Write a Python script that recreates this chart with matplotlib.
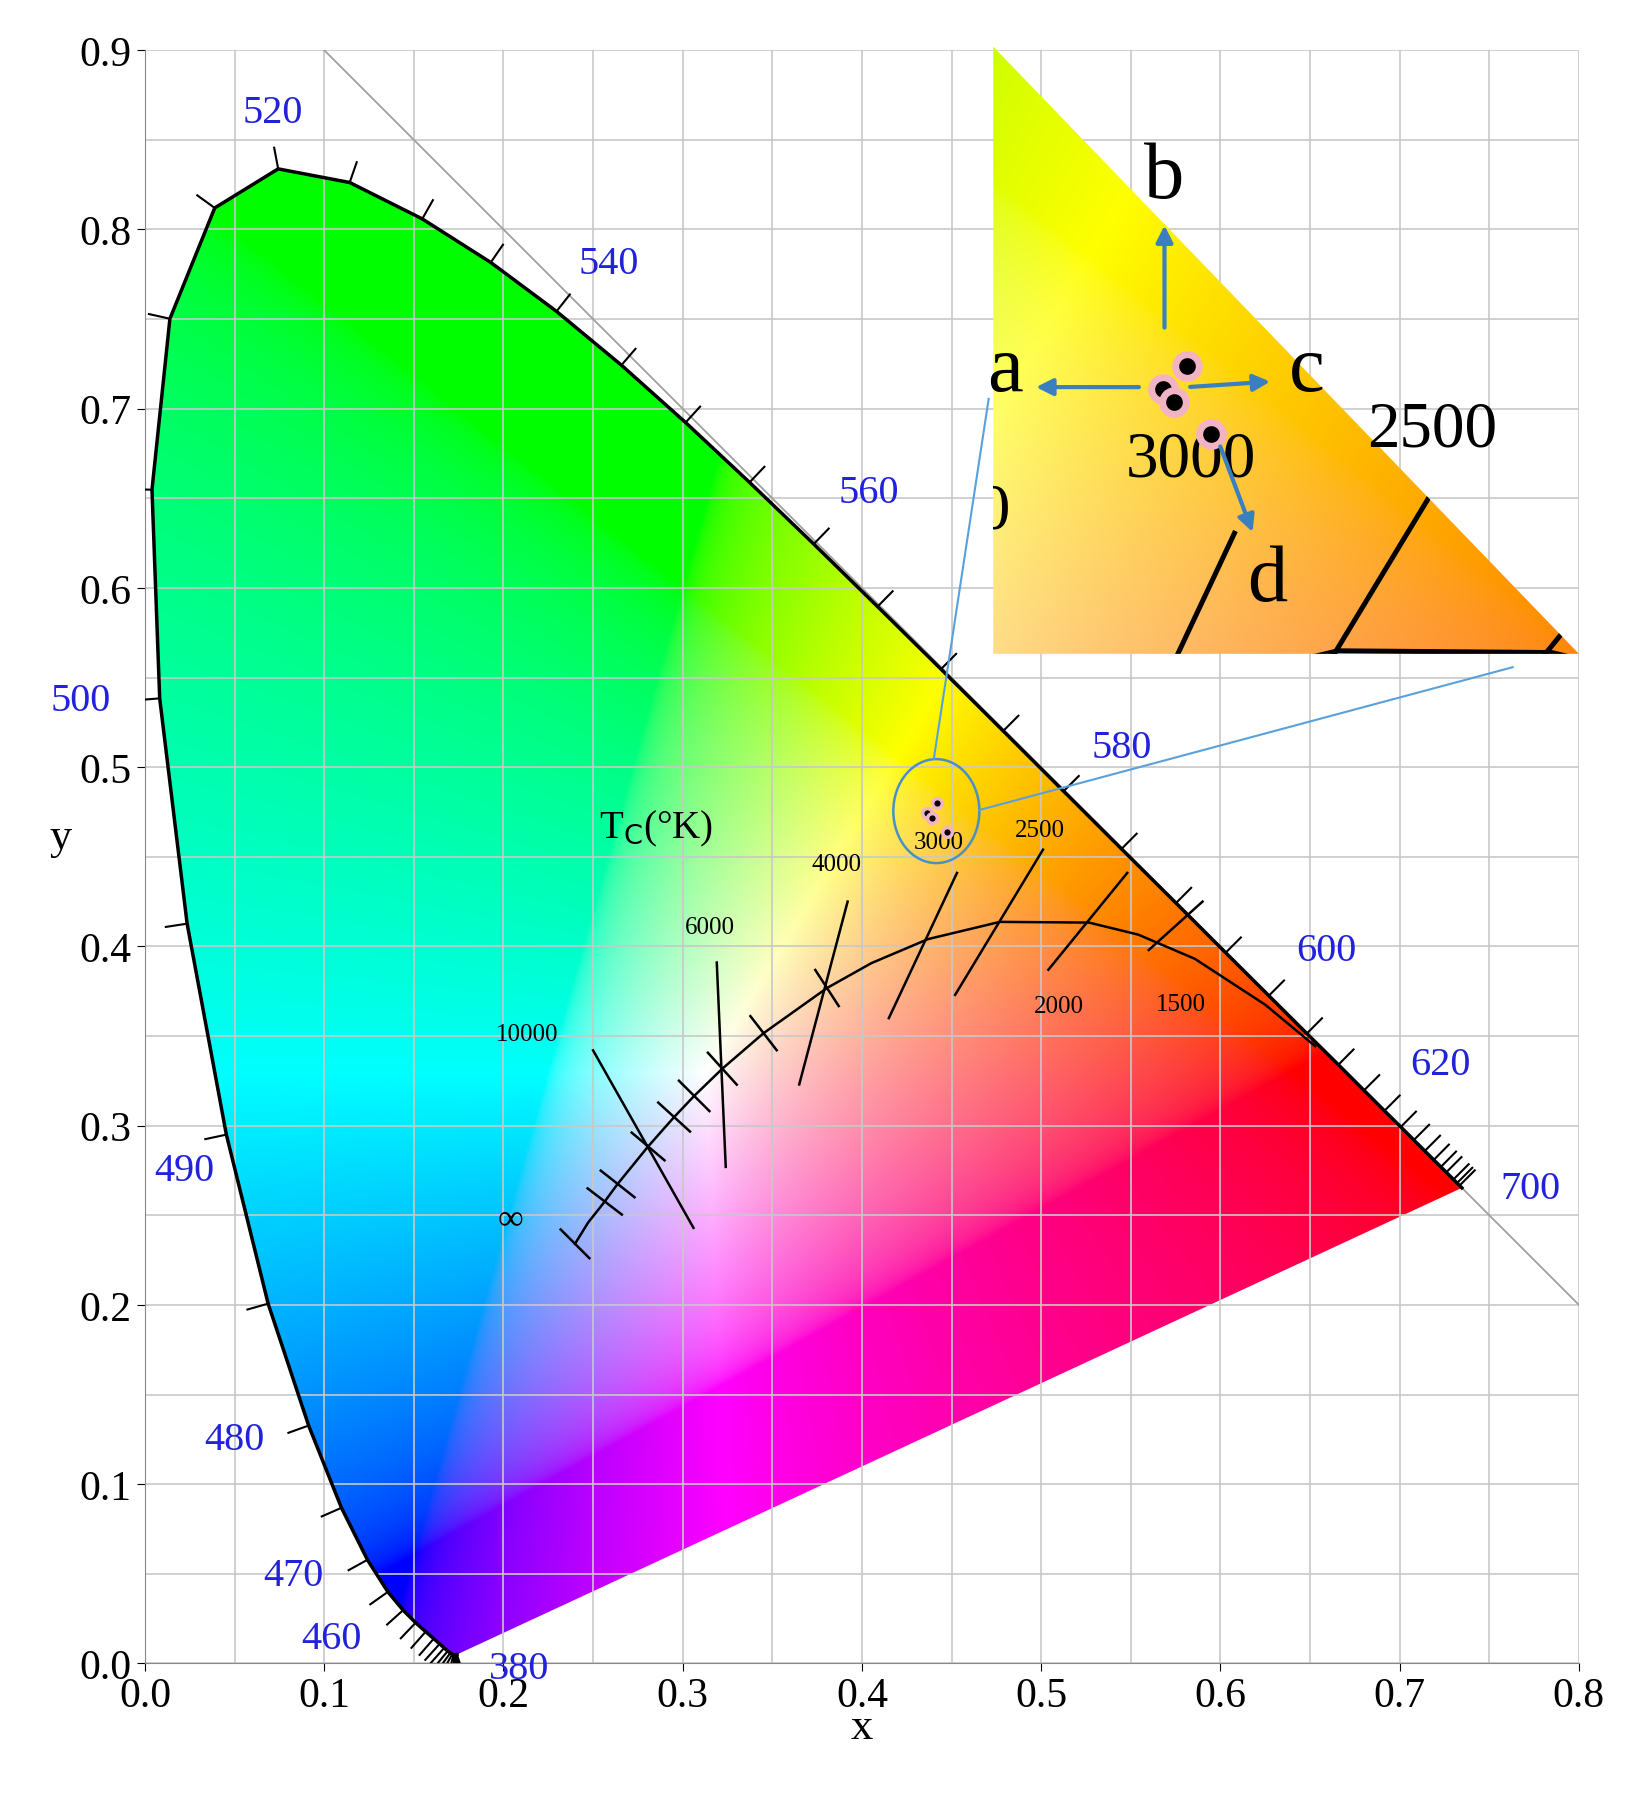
import matplotlib
matplotlib.use("Agg")
import matplotlib.pyplot as plt
import numpy as np
from matplotlib.patches import Polygon, Ellipse
from matplotlib.lines import Line2D

plt.rcParams["font.family"] = ["Liberation Serif", "DejaVu Serif"]

# CIE 1931 spectral locus (nm, x, y)
wl = [380, 385, 390, 395, 400, 405, 410, 415, 420, 425, 430, 435, 440, 445, 450,
      455, 460, 465, 470, 475, 480, 485, 490, 495, 500, 505, 510, 515, 520, 525,
      530, 535, 540, 545, 550, 555, 560, 565, 570, 575, 580, 585, 590, 595, 600,
      605, 610, 615, 620, 625, 630, 635, 640, 645, 650, 660, 670, 680, 700]
loc_x = [0.1741, 0.1740, 0.1738, 0.1736, 0.1733, 0.1730, 0.1726, 0.1721, 0.1714, 0.1703,
         0.1689, 0.1669, 0.1644, 0.1611, 0.1566, 0.1510, 0.1440, 0.1355, 0.1241, 0.1096,
         0.0913, 0.0687, 0.0454, 0.0235, 0.0082, 0.0039, 0.0139, 0.0389, 0.0743, 0.1142,
         0.1547, 0.1929, 0.2296, 0.2658, 0.3016, 0.3373, 0.3731, 0.4087, 0.4441, 0.4788,
         0.5125, 0.5448, 0.5752, 0.6029, 0.6270, 0.6482, 0.6658, 0.6801, 0.6915, 0.7006,
         0.7079, 0.7140, 0.7190, 0.7230, 0.7260, 0.7300, 0.7320, 0.7334, 0.7347]
loc_y = [0.0050, 0.0050, 0.0049, 0.0049, 0.0048, 0.0048, 0.0048, 0.0048, 0.0051, 0.0058,
         0.0069, 0.0086, 0.0109, 0.0138, 0.0177, 0.0227, 0.0297, 0.0399, 0.0578, 0.0868,
         0.1327, 0.2007, 0.2950, 0.4127, 0.5384, 0.6548, 0.7502, 0.8120, 0.8338, 0.8262,
         0.8059, 0.7816, 0.7543, 0.7243, 0.6923, 0.6589, 0.6245, 0.5896, 0.5547, 0.5202,
         0.4866, 0.4544, 0.4242, 0.3965, 0.3725, 0.3514, 0.3340, 0.3197, 0.3083, 0.2993,
         0.2920, 0.2859, 0.2809, 0.2770, 0.2740, 0.2700, 0.2680, 0.2666, 0.2653]

# wavelength labels and their positions
wl_labels = ["380", "460", "470", "480", "490", "500", "520", "540", "560", "580", "600", "620", "700"]
wl_lx = [0.209, 0.104, 0.083, 0.050, 0.022, -0.036, 0.071, 0.259, 0.404, 0.545, 0.659, 0.723, 0.773]
wl_ly = [-0.003, 0.014, 0.049, 0.125, 0.275, 0.537, 0.865, 0.781, 0.653, 0.511, 0.398, 0.334, 0.265]

# Planckian locus (K, x, y)
pl_T = [1000, 1200, 1500, 1750, 2000, 2500, 3000, 3500, 4000, 5000, 6000, 7000,
        8000, 10000, 15000, 20000, 40000]
pl_x = [0.6528, 0.6251, 0.5857, 0.5541, 0.5267, 0.4770, 0.4369, 0.4053, 0.3805,
        0.3451, 0.3221, 0.3064, 0.2952, 0.2807, 0.2637, 0.2565, 0.2472]
pl_y = [0.3444, 0.3674, 0.3931, 0.4066, 0.4133, 0.4137, 0.4041, 0.3907, 0.3768,
        0.3516, 0.3318, 0.3166, 0.3048, 0.2884, 0.2675, 0.2577, 0.2459]
inf_x, inf_y = 0.2399, 0.2341

# isotherm segments (x0, y0, x1, y1)
iso_x0 = [0.250, 0.319, 0.392, 0.453, 0.501, 0.548, 0.590]
iso_y0 = [0.342, 0.391, 0.425, 0.441, 0.454, 0.441, 0.425]
iso_x1 = [0.306, 0.324, 0.365, 0.415, 0.452, 0.504, 0.560]
iso_y1 = [0.243, 0.277, 0.323, 0.360, 0.373, 0.387, 0.398]

temp_labels = ["10000", "6000", "4000", "3000", "2500", "2000", "1500"]
temp_lx = [0.213, 0.315, 0.386, 0.443, 0.499, 0.510, 0.578]
temp_ly = [0.351, 0.411, 0.446, 0.458, 0.465, 0.367, 0.368]

# measured samples a, b, c, d
pt_x = [0.4365, 0.4420, 0.4390, 0.4475]
pt_y = [0.4745, 0.4799, 0.4715, 0.4641]


def chroma_image(x0, x1, y0, y1, n=500):
    xs = np.linspace(x0, x1, n)
    ys = np.linspace(y0, y1, n)
    X, Y = np.meshgrid(xs, ys)
    Yc = np.maximum(Y, 1e-4)
    XX = X / Yc
    ZZ = (1 - X - Y) / Yc
    r = 3.2406 * XX - 1.5372 - 0.4986 * ZZ
    g = -0.9689 * XX + 1.8758 + 0.0415 * ZZ
    b = 0.0557 * XX - 0.2040 + 1.0570 * ZZ
    rgb = np.clip(np.stack([r, g, b], axis=-1), 0, None)
    rgb = rgb / np.maximum(rgb.max(axis=-1, keepdims=True), 1e-9)
    rgb = np.where(rgb <= 0.0031308, 12.92 * rgb, 1.055 * rgb ** (1 / 2.4) - 0.055)
    return np.clip(rgb, 0, 1)


def draw_content(ax, lw_scale=1.0, fs_scale=1.0, ext=(0, 0.8, 0, 0.9), clip_text=False):
    img = chroma_image(*ext)
    im = ax.imshow(img, extent=ext, origin="lower", zorder=1, interpolation="bilinear")
    poly = Polygon(np.column_stack([loc_x, loc_y]), closed=True, transform=ax.transData)
    im.set_clip_path(poly)
    ax.plot(loc_x, loc_y, color="black", lw=2.5 * lw_scale, zorder=3)
    ax.plot(pl_x + [inf_x], pl_y + [inf_y], color="black", lw=1.8 * lw_scale, zorder=3)
    for a, b_, c, d in zip(iso_x0, iso_y0, iso_x1, iso_y1):
        ax.plot([a, c], [b_, d], color="black", lw=1.8 * lw_scale, zorder=3)
    for t, x, y in zip(temp_labels, temp_lx, temp_ly):
        ax.text(x, y, t, fontsize=18 * fs_scale, ha="center", va="center", zorder=4,
                clip_on=clip_text)


fig = plt.figure(figsize=(16.44, 17.99), dpi=100)
W, H = 1440, 1575
ax = fig.add_axes([127 / W, 1 - 1462 / H, (1383 - 127) / W, (1462 - 40) / H])
ax.set_xlim(0, 0.8)
ax.set_ylim(0, 0.9)
ax.set_xticks(np.arange(0, 0.81, 0.1))
ax.set_yticks(np.arange(0, 0.91, 0.1))
ax.set_xticks(np.arange(0, 0.81, 0.05), minor=True)
ax.set_yticks(np.arange(0, 0.91, 0.05), minor=True)
ax.grid(True, which="both", color="#c8c8c8", lw=1.2, zorder=0)
ax.tick_params(labelsize=30, direction="out", length=6)
ax.tick_params(which="minor", length=0)
ax.set_xticklabels([f"{v:.1f}" for v in np.arange(0, 0.81, 0.1)])
ax.set_yticklabels([f"{v:.1f}" for v in np.arange(0, 0.91, 0.1)])
for s in ["top", "right"]:
    ax.spines[s].set_visible(False)
ax.spines["left"].set_color("#888888")
ax.spines["bottom"].set_color("#888888")
ax.set_xlabel("x", fontsize=32, labelpad=-6)
ax.set_ylabel("y", fontsize=32, rotation=0, labelpad=14)

ax.plot([0.1, 0.8], [0.9, 0.2], color="#a0a0a0", lw=1.3, zorder=2)
draw_content(ax)

# ticks along the spectral locus
px, py = np.array(loc_x), np.array(loc_y)
for i in range(1, len(px) - 1):
    tx, ty = px[i + 1] - px[i - 1], py[i + 1] - py[i - 1]
    nrm = np.hypot(tx, ty)
    if nrm == 0:
        continue
    nx, ny = ty / nrm, -tx / nrm
    if (px[i] - 0.33) * nx + (py[i] - 0.33) * ny < 0:
        nx, ny = -nx, -ny
    ax.plot([px[i], px[i] + 0.012 * nx], [py[i], py[i] + 0.012 * ny], color="black", lw=1.5, zorder=3)

# short ticks along the Planckian locus
for i in range(8, len(pl_x) - 1):
    tx, ty = pl_x[i + 1] - pl_x[i - 1], pl_y[i + 1] - pl_y[i - 1]
    nrm = np.hypot(tx, ty)
    nx, ny = -ty / nrm, tx / nrm
    ax.plot([pl_x[i] - 0.012 * nx, pl_x[i] + 0.012 * nx],
            [pl_y[i] - 0.012 * ny, pl_y[i] + 0.012 * ny], color="black", lw=1.8, zorder=3)
ax.plot([inf_x - 0.008, inf_x + 0.008], [inf_y + 0.008, inf_y - 0.008], color="black", lw=1.8, zorder=3)
ax.text(0.204, 0.248, "∞", fontsize=26, ha="center", va="center")
ax.text(0.285, 0.466, "T$_{\\rm C}$(°K)", fontsize=28, ha="center", va="center")

for t, x, y in zip(wl_labels, wl_lx, wl_ly):
    ax.text(x, y, t, color="#2222dd", fontsize=29, ha="center", va="center", clip_on=False)

ax.add_patch(Ellipse((0.4415, 0.4755), 0.048, 0.058, fill=False, ec="#4a8fc8", lw=1.8, zorder=5))
ax.plot(pt_x, pt_y, "o", ms=7, mfc="black", mec="#f2b3c4", mew=2.5, zorder=6)

# connecting lines to the inset (figure coordinates)
fig.add_artist(Line2D([818 / W, 866 / W], [1 - 665 / H, 1 - 350 / H], color="#5aa0dd", lw=1.5))
fig.add_artist(Line2D([858 / W, 1325 / W], [1 - 710 / H, 1 - 585 / H], color="#5aa0dd", lw=1.5))

# inset
iax = fig.add_axes([870 / W, 1 - 575 / H, (1383 - 870) / W, (575 - 40) / H])
ext = (0.397, 0.533, 0.413, 0.554)
iax.set_xlim(ext[0], ext[1])
iax.set_ylim(ext[2], ext[3])
iax.axis("off")
draw_content(iax, lw_scale=2.0, fs_scale=2.6, ext=ext, clip_text=True)
tri = Polygon([(0, 0), (1, 0), (0, 1)], closed=True, transform=iax.transAxes)
for art in iax.images + iax.lines + iax.texts:
    art.set_clip_path(tri)
iax.plot(pt_x, pt_y, "o", ms=17, mfc="black", mec="#f2b3c4", mew=5, zorder=6)


def fr(px_, py_):
    return ((px_ - 870) / 513, 1 - (py_ - 40) / 535)


for lab, tpos, s, e in [("a", (880, 325), (1000, 340), (905, 340)),
                        ("b", (1020, 155), (1020, 290), (1020, 195)),
                        ("c", (1145, 325), (1040, 340), (1115, 335)),
                        ("d", (1110, 510), (1068, 390), (1098, 470))]:
    iax.annotate("", xy=fr(*e), xytext=fr(*s), xycoords="axes fraction",
                 arrowprops=dict(arrowstyle="-|>", color="#3a7fc0", lw=3, mutation_scale=25), zorder=7)
    iax.text(*fr(*tpos), lab, transform=iax.transAxes, fontsize=58, ha="center", va="center", zorder=8)

fig.savefig("out.png", dpi=100)
